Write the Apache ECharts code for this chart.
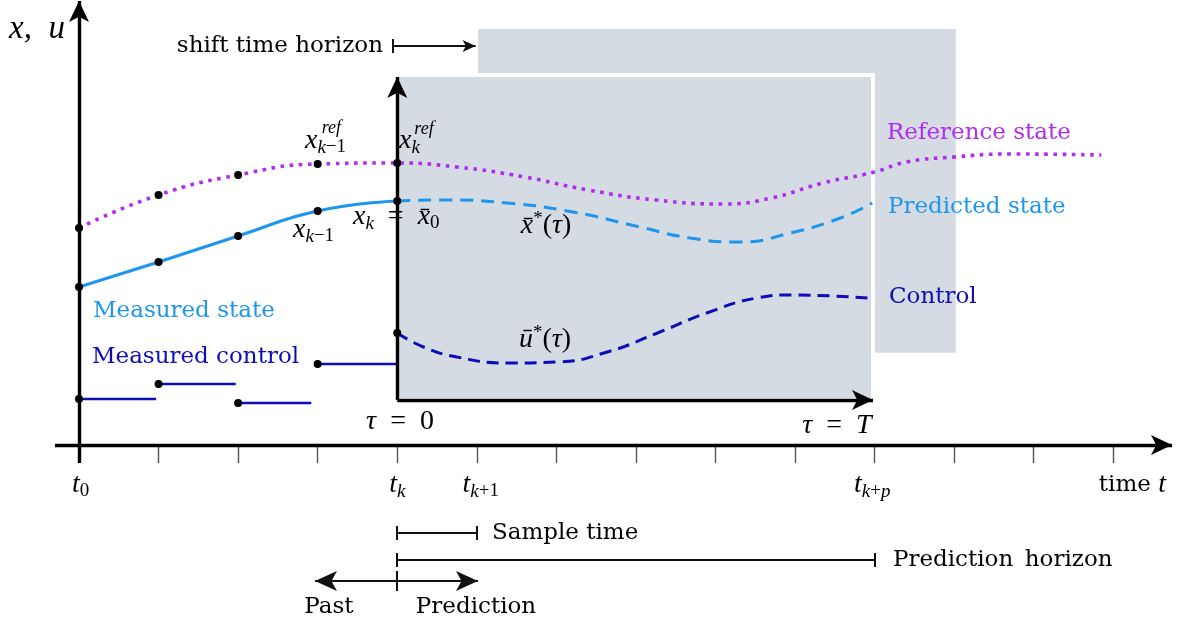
<!DOCTYPE html>
<html>
<head>
<meta charset="utf-8">
<script src="https://cdn.jsdelivr.net/npm/echarts@6/dist/echarts.min.js"></script>
<style>
  html, body { margin: 0; padding: 0; background: #fff; }
  #chart { width: 1189px; height: 625px; }
</style>
</head>
<body>
<div id="chart"></div>
<script>
// time runs in sample steps: t0 = 0, tk = 4, tk+1 = 5, tk+p = 10
const tickTimes = [0, 1, 2, 3, 4, 5, 6, 7, 8, 9, 10, 11, 12, 13]
const tickLabelTimes = [0.02, 4, 5.05, 9.97, 13.24]
const tickLabels = ['{m|t}{sr|0}', '{m|t}{s|k}', '{m|t}{s|k}{sr|+1}', '{m|t}{s|k}{sr|+}{s|p}', '{t|time }{m|t}']

const refTime = [0, 1, 2, 3, 4, 4.75, 5.6, 6.4, 7.25, 8.1, 8.7, 9.35, 10, 10.4, 11, 11.7, 12.85]
const refState = [21.7, 25.0, 27.0, 28.1, 28.2, 27.8, 26.8, 25.5, 24.5, 24.1, 24.7, 26.2, 27.3, 28.3, 28.8, 29.1, 29.0]

const measTime = [0, 1, 2, 3, 4]
const measState = [15.8, 18.3, 20.9, 23.4, 24.4]

const predTime = [4, 4.54, 5.38, 6.21, 7.05, 7.68, 8.31, 8.94, 9.57, 9.97]
const predState = [24.4, 24.5, 24.2, 23.3, 21.8, 20.7, 20.3, 21.2, 22.7, 24.2]

const ctrlTime = [4, 4.33, 4.75, 5.38, 6.01, 6.64, 7.27, 7.89, 8.52, 8.94, 9.92]
const ctrlValue = [11.2, 9.8, 8.8, 8.2, 8.3, 9.3, 11.2, 13.2, 14.7, 15.0, 14.7]

const stepStart = [0, 1, 2, 3]
const stepEnd = [0.97, 1.97, 2.92, 4]
const stepValue = [4.6, 6.1, 4.2, 8.1]

const sampleTime = [4, 5]
const horizon = [4, 10]

const purple = '#b02cf2'
const lightBlue = '#1f96ee'
const darkBlue = '#0c0cb8'
const grey = '#d4dbe2'
const ink = '#000'

const mathFont = "'Liberation Serif', 'DejaVu Serif', serif"
const romanFont = "'DejaVu Serif', serif"
const rich = {
  m: { fontFamily: mathFont, fontStyle: 'italic', fontSize: 28 },
  big: { fontFamily: mathFont, fontStyle: 'italic', fontSize: 33 },
  r: { fontFamily: mathFont, fontSize: 28 },
  s: { fontFamily: mathFont, fontStyle: 'italic', fontSize: 19, padding: [13, 0, 0, 0] },
  sr: { fontFamily: mathFont, fontSize: 19, padding: [13, 0, 0, 0] },
  p: { fontFamily: mathFont, fontSize: 19, padding: [0, 0, 14, 0] },
  q: { fontFamily: mathFont, fontStyle: 'italic', fontSize: 18 },
  t: { fontFamily: romanFont, fontSize: 23 }
}

// text, x, y, align, colour
const notes = [
  ['{big|x,\u2002u}', -0.528, 41.6, 'center', ink],
  ['{t|shift time horizon}', 3.821, 39.9, 'right', ink],
  ['{m|x}{s|k}{sr|\u22121}', 2.84, 30.4, 'left', ink],
  ['{q|ref}', 3.05, 31.7, 'left', ink],
  ['{m|x}{s|k}', 4.022, 30.4, 'left', ink],
  ['{q|ref}', 4.215, 31.6, 'left', ink],
  ['{m|x}{s|k}{sr|\u22121}', 2.69, 21.5, 'left', ink],
  ['{m|x}{s|k}{r|\u2002=\u2002}{m|x\u0304}{sr|0}', 3.444, 22.8, 'left', ink],
  ['{m|x\u0304}{p|*}{r|(}{m|\u03c4}{r|)}', 5.87, 21.9, 'center', ink],
  ['{m|\u016b}{p|*}{r|(}{m|\u03c4}{r|)}', 5.857, 10.5, 'center', ink],
  ['{m|\u03c4}{r|\u2002=\u20020}', 4.035, 2.3, 'center', ink],
  ['{m|\u03c4}{r|\u2002=\u2002}{m|T}', 9.527, 1.9, 'center', ink],
  ['{t|Reference state}', 10.156, 31.2, 'left', purple],
  ['{t|Predicted state}', 10.168, 23.8, 'left', lightBlue],
  ['{t|Control}', 10.181, 14.8, 'left', darkBlue],
  ['{t|Measured state}', 0.176, 13.4, 'left', lightBlue],
  ['{t|Measured control}', 0.163, 8.8, 'left', darkBlue],
  ['{t|Sample time}', 5.191, -8.8, 'left', ink],
  ['{t|Prediction\u2002horizon}', 10.231, -11.5, 'left', ink],
  ['{t|Past}', 3.142, -16.2, 'center', ink],
  ['{t|Prediction}', 4.99, -16.2, 'center', ink],
  ...tickLabelTimes.map((t, i) => [tickLabels[i], t, -4.0, 'center', ink])
]

const pairs = (xs, ys) => xs.map((x, i) => [x, ys[i]])
const atSamples = (xs, ys) => pairs(xs, ys).filter(p => Number.isInteger(p[0]) && p[0] <= 4)

const dots = [
  ...atSamples(refTime, refState),
  ...atSamples(measTime, measState),
  [ctrlTime[0], ctrlValue[0]],
  ...pairs(stepStart, stepValue)
]

const bigArrow = [15, 21]
const seg = (a, b, end, size) => [
  { coord: a },
  end ? { coord: b, symbol: 'arrow', symbolSize: size } : { coord: b }
]
const cap = (x, y, h) => seg([x, y - h], [x, y + h])

const chart = echarts.init(document.getElementById('chart'))

const stepSeries = stepStart.map((s, i) => ({
  type: 'line',
  z: 3,
  showSymbol: false,
  data: [[s, stepValue[i]], [stepEnd[i], stepValue[i]]],
  lineStyle: { color: darkBlue, width: 2.6 }
}))

const option = {
  animation: false,
  backgroundColor: '#fff',
  grid: { left: 0, right: 0, top: 0, bottom: 0, containLabel: false, outerBoundsMode: 'none' },
  xAxis: {
    type: 'value',
    min: -0.993,
    max: 13.952,
    axisLine: { show: false, onZero: true },
    splitLine: { show: false },
    axisTick: {
      show: true,
      length: 18,
      customValues: tickTimes,
      lineStyle: { color: '#555', width: 1.4 }
    },
    axisLabel: { show: false }
  },
  yAxis: { type: 'value', min: -18, max: 44.5, show: false },
  series: [
    {
      // horizon boxes
      type: 'line',
      data: [],
      markArea: {
        silent: true,
        data: [
          [{ coord: [5.015, 9.23], itemStyle: { color: grey } }, { coord: [11.02, 41.6] }],
          [{ coord: [horizon[0], 4.5], itemStyle: { color: grey, borderColor: '#fff', borderWidth: 4 } },
           { coord: [9.98, 37.0] }]
        ]
      }
    },
    {
      name: 'Reference state',
      type: 'line',
      z: 3,
      smooth: true,
      showSymbol: false,
      data: pairs(refTime, refState),
      lineStyle: { color: purple, width: 3.6, type: [3.6, 5.6] }
    },
    {
      name: 'Measured state',
      type: 'line',
      z: 3,
      smooth: true,
      showSymbol: false,
      data: pairs(measTime, measState),
      lineStyle: { color: lightBlue, width: 3 }
    },
    {
      name: 'Predicted state',
      type: 'line',
      z: 3,
      smooth: true,
      showSymbol: false,
      data: pairs(predTime, predState),
      lineStyle: { color: lightBlue, width: 3, type: [13, 8] }
    },
    {
      name: 'Control',
      type: 'line',
      z: 3,
      smooth: true,
      showSymbol: false,
      data: pairs(ctrlTime, ctrlValue),
      lineStyle: { color: darkBlue, width: 3, type: [12, 7] }
    },
    ...stepSeries,
    {
      // main and inner axes
      type: 'line',
      data: [],
      markLine: {
        silent: true,
        symbol: ['none', 'none'],
        label: { show: false },
        lineStyle: { color: '#000', width: 3.4, type: 'solid' },
        data: [
          seg([0, -1.8], [0, 44.4], true, bigArrow),
          seg([-0.302, 0], [13.738, 0], true, bigArrow),
          seg([horizon[0], 4.5], [horizon[0], 36.8], true, bigArrow),
          seg([horizon[0], 4.5], [9.98, 4.5], true, bigArrow)
        ]
      }
    },
    {
      // interval bars
      type: 'line',
      data: [],
      markLine: {
        silent: true,
        symbol: ['none', 'none'],
        label: { show: false },
        lineStyle: { color: '#111', width: 2, type: 'solid' },
        data: [
          seg([3.947, 39.9], [4.985, 39.9], true, [9, 13]),
          cap(3.947, 39.9, 0.7),
          seg([sampleTime[0], -8.8], [sampleTime[1], -8.8]),
          cap(sampleTime[0], -8.8, 0.7),
          cap(sampleTime[1], -8.8, 0.7),
          seg([horizon[0], -11.5], [horizon[1], -11.5]),
          cap(horizon[0], -11.5, 0.7),
          cap(horizon[1], -11.5, 0.7),
          seg([horizon[0], -13.6], [2.966, -13.6], true, [15, 22]),
          seg([horizon[0], -13.6], [5.015, -13.6], true, [15, 22]),
          cap(horizon[0], -13.6, 1.0)
        ]
      }
    },
    {
      type: 'scatter',
      z: 8,
      symbolSize: 8,
      itemStyle: { color: '#000', opacity: 1 },
      data: dots
    },
    {
      type: 'scatter',
      z: 9,
      symbolSize: 0,
      clip: false,
      silent: true,
      itemStyle: { opacity: 1 },
      label: { show: true, position: 'inside', rich: rich },
      data: notes.map(n => ({
        value: [n[1], n[2]],
        label: { formatter: n[0], align: n[3], color: n[4] }
      }))
    }
  ]
}

chart.setOption(option)
window.addEventListener('resize', () => chart.resize())
</script>
</body>
</html>
